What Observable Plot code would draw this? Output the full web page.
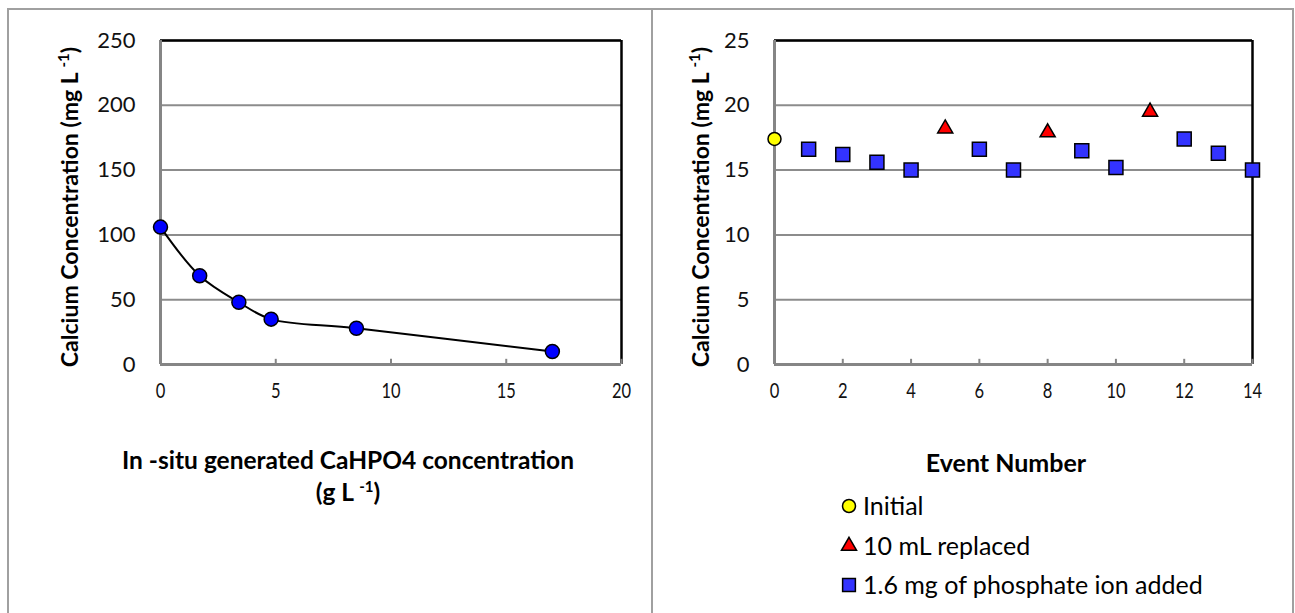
<!DOCTYPE html>
<html><head><meta charset="utf-8">
<script src="https://cdn.jsdelivr.net/npm/d3@7"></script>
<script src="https://cdn.jsdelivr.net/npm/@observablehq/plot@0.6"></script>
<style>
body{margin:0;background:#fff;font-family:Lato,sans-serif;}
#wrap{position:relative;width:1295px;height:613px;overflow:hidden;background:#fff;}
#wrap svg{position:absolute;top:0;}
.bx{position:absolute;box-sizing:border-box;border-color:#a0a0a0;border-style:solid;}
</style></head>
<body><div id="wrap">
<div class="bx" style="left:7px;top:8px;width:646px;height:620px;border-width:2px 2px 0 2px;"></div>
<div class="bx" style="left:651px;top:8px;width:643px;height:620px;border-width:2px 2px 0 0;"></div>
</div>
<script>
// ---- Panel (a) data ----
const aConc = [0, 1.7, 3.4, 4.8, 8.5, 17];          // In-situ CaHPO4 (g/L)
const aCalcium = [106, 68.5, 48, 35, 28, 10];       // Ca (mg/L)
const aXTicks = [0, 5, 10, 15, 20];
const aYTicks = [0, 50, 100, 150, 200, 250];

// ---- Panel (b) data ----
const bInitialEvent = [0];
const bInitialCa = [17.4];
const bReplacedEvent = [5, 8, 11];
const bReplacedCa = [18.2, 17.9, 19.5];
const bAddedEvent = [1, 2, 3, 4, 6, 7, 9, 10, 12, 13, 14];
const bAddedCa = [16.6, 16.2, 15.6, 15.0, 16.6, 15.0, 16.5, 15.2, 17.4, 16.3, 15.0];
const bXTicks = [0, 2, 4, 6, 8, 10, 12, 14];
const bYTicks = [0, 5, 10, 15, 20, 25];
const legendLabels = ["Initial", "10 mL replaced", "1.6 mg of phosphate ion added"];

const FONT = "Lato, 'Open Sans', sans-serif";
const pts = (xs, ys) => xs.map((x, i) => ({x, y: ys[i]}));
const wrap = document.getElementById("wrap");

function frameMarks(xTicks, yTicks, xMax, yMax, tickLen) {
  return [
    Plot.gridY(yTicks, {stroke: "#8c8c8c", strokeOpacity: 1, strokeWidth: 2}),
    Plot.ruleY([yMax], {stroke: "black", strokeWidth: 2.5}),
    Plot.ruleX([xMax], {stroke: "black", strokeWidth: 2.5}),
    Plot.ruleX([0], {stroke: "#858585", strokeWidth: 3}),
    Plot.ruleY([0], {stroke: "#858585", strokeWidth: 3}),
    Plot.ruleX(xTicks, {y1: 0, y2: tickLen, stroke: "#858585", strokeWidth: 2}),
    Plot.axisY(yTicks, {tickSize: 0, tickPadding: 25, fontSize: 22, label: null, fill: "#111"}),
    Plot.axisX(xTicks, {tickSize: 0, tickPadding: 18, fontSize: 22, label: null, fill: "#111"})
  ];
}

const pa = Plot.plot({
  width: 652, height: 613,
  marginLeft: 160, marginRight: 31, marginTop: 40, marginBottom: 249,
  x: {domain: [0, 20], axis: null},
  y: {domain: [0, 250], axis: null},
  style: {fontFamily: FONT, background: "transparent", overflow: "visible"},
  marks: [
    ...frameMarks(aXTicks, aYTicks, 20, 250, 4),
    Plot.line(pts(aConc, aCalcium), {x: "x", y: "y", curve: "catmull-rom", stroke: "black", strokeWidth: 2}),
    Plot.dot(pts(aConc, aCalcium), {x: "x", y: "y", r: 7, fill: "#0000ff", stroke: "black", strokeWidth: 1.5})
  ]
});
pa.style.left = "0px";
wrap.appendChild(pa);

const pb = Plot.plot({
  width: 643, height: 613,
  marginLeft: 122, marginRight: 43, marginTop: 40, marginBottom: 249,
  x: {domain: [0, 14], axis: null},
  y: {domain: [0, 25], axis: null},
  style: {fontFamily: FONT, background: "transparent", overflow: "visible"},
  marks: [
    ...frameMarks(bXTicks, bYTicks, 14, 25, 0.4),
    Plot.dot(pts(bInitialEvent, bInitialCa), {x: "x", y: "y", r: 6.5, fill: "#ffff00", stroke: "black", strokeWidth: 1.5}),
    Plot.dot(pts(bReplacedEvent, bReplacedCa), {x: "x", y: "y", r: 5.6, symbol: "triangle", fill: "#ff0000", stroke: "black", strokeWidth: 1.5}),
    Plot.dot(pts(bAddedEvent, bAddedCa), {x: "x", y: "y", r: 7.9, symbol: "square", fill: "#3333ff", stroke: "black", strokeWidth: 1.5})
  ]
});
pb.style.left = "652px";
wrap.appendChild(pb);

// condense x tick labels (narrow style as in the reference)
for (const svg of [pa, pb]) {
  svg.querySelectorAll('g[aria-label="x-axis tick label"] text').forEach(t => {
    const w = t.getComputedTextLength();
    t.setAttribute("textLength", (w * 0.75).toFixed(1));
    t.setAttribute("lengthAdjust", "spacingAndGlyphs");
  });
}

function yTitle(svg, x, y) {
  const t = d3.select(svg).append("text")
    .attr("transform", `translate(${x},${y}) rotate(-90)`)
    .attr("text-anchor", "middle").attr("font-weight", "bold")
    .attr("font-size", 23).attr("font-family", FONT).attr("fill", "#000");
  t.append("tspan").text("Calcium Concentration (mg L ");
  t.append("tspan").attr("baseline-shift", "super").attr("font-size", 15).text("-1");
  t.append("tspan").text(")");
}
yTitle(pa, 78, 207);
yTitle(pb, 57, 207);

// x-axis titles
const ta = d3.select(pa).append("g").attr("font-family", FONT).attr("font-weight", "bold")
  .attr("font-size", 24.5).attr("text-anchor", "middle").attr("fill", "#000");
ta.append("text").attr("x", 348).attr("y", 460).attr("dy", "0.35em").text("In -situ generated CaHPO4 concentration");
const l2 = ta.append("text").attr("x", 348).attr("y", 492).attr("dy", "0.35em");
l2.append("tspan").text("(g L ");
l2.append("tspan").attr("baseline-shift", "super").attr("font-size", 15).text("-1");
l2.append("tspan").text(")");

d3.select(pb).append("text").attr("x", 354).attr("y", 463).attr("dy", "0.35em")
  .attr("font-family", FONT).attr("font-weight", "bold").attr("font-size", 25)
  .attr("text-anchor", "middle").attr("fill", "#000").text("Event Number");

// legend
const legSym = [
  {sym: d3.symbolCircle, r: 6.5, fill: "#ffff00"},
  {sym: d3.symbolTriangle, r: 5.6, fill: "#ff0000"},
  {sym: d3.symbolSquare, r: 7.2, fill: "#3333ff"}
];
const legRows = [506, 546, 585];
const lg = d3.select(pb).append("g").attr("font-family", FONT).attr("font-size", 25)
  .attr("text-anchor", "start").attr("fill", "#000");
legendLabels.forEach((lab, i) => {
  const s = legSym[i];
  lg.append("path").attr("transform", `translate(197,${legRows[i]})`)
    .attr("d", d3.symbol(s.sym, Math.PI * s.r * s.r)())
    .attr("fill", s.fill).attr("stroke", "black").attr("stroke-width", 1.5);
  lg.append("text").attr("x", 211).attr("y", legRows[i]).attr("dy", "0.35em").text(lab);
});
</script>
</body></html>
